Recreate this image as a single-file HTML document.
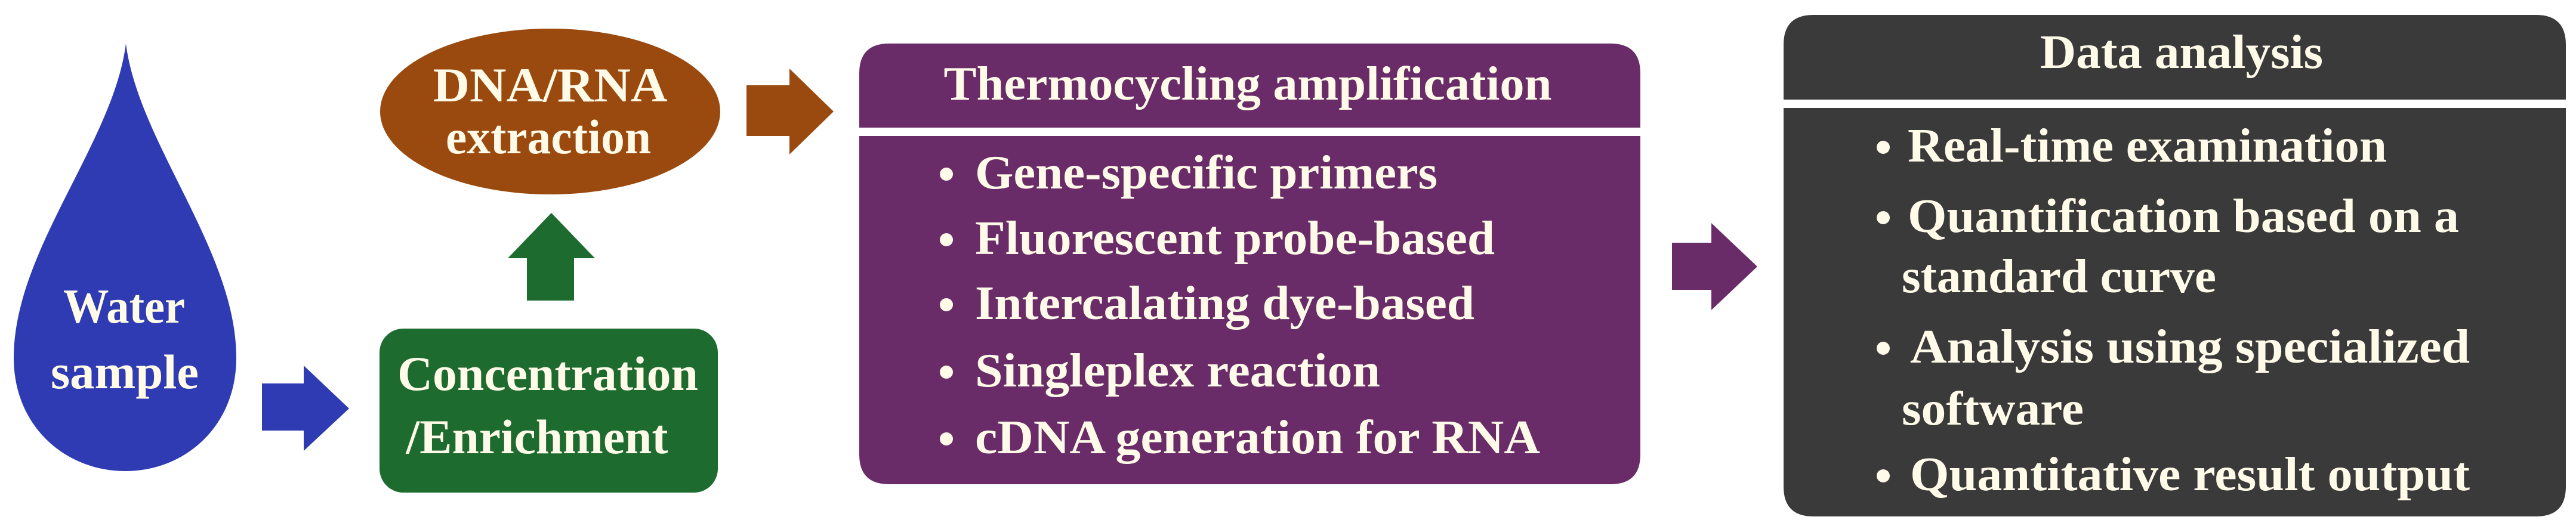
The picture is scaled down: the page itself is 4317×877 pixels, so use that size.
<!DOCTYPE html>
<html><head><meta charset="utf-8"><style>html,body{margin:0;padding:0;background:#fff}svg{display:block}svg text{font-family:"Liberation Serif","DejaVu Serif",serif;font-weight:bold}</style></head>
<body>
<svg width="4317" height="877" viewBox="0 0 4317 877" xmlns="http://www.w3.org/2000/svg" fill="#fffbe8">
<!-- drop -->
<path d="M211,73 C190,240 23,420 23,600 C23,715 110,790 210,790 C310,790 396,715 396,600 C396,420 232,240 211,73 Z" fill="#2f3bb2"/>
<text x="208" y="541" font-size="82" text-anchor="middle" textLength="204" lengthAdjust="spacingAndGlyphs">Water</text>
<text x="209" y="651" font-size="82" text-anchor="middle" textLength="248" lengthAdjust="spacingAndGlyphs">sample</text>
<!-- blue arrow -->
<polygon points="439,643 509,643 509,613 585,685 509,756 509,722 439,722" fill="#2f3bb2"/>
<!-- green box -->
<rect x="636" y="551" width="567" height="275" rx="40" fill="#1e6b30"/>
<text x="918" y="654" font-size="82" text-anchor="middle" textLength="504" lengthAdjust="spacingAndGlyphs">Concentration</text>
<text x="900" y="760" font-size="82" text-anchor="middle" textLength="439" lengthAdjust="spacingAndGlyphs">/Enrichment</text>
<!-- green up arrow -->
<polygon points="924,357 997,433 962,433 962,504 883,504 883,433 851,433" fill="#1e6b30"/>
<!-- brown ellipse -->
<ellipse cx="922" cy="187" rx="285" ry="139" fill="#9a4a0e"/>
<text x="922" y="170" font-size="82" text-anchor="middle" textLength="393" lengthAdjust="spacingAndGlyphs">DNA/RNA</text>
<text x="919" y="257" font-size="82" text-anchor="middle" textLength="344" lengthAdjust="spacingAndGlyphs">extraction</text>
<!-- brown arrow -->
<polygon points="1251,143 1323,143 1323,115 1397,187 1323,259 1323,228 1251,228" fill="#9a4a0e"/>
<!-- purple box -->
<path d="M1440,214 L1440,123 Q1440,73 1490,73 L2699,73 Q2749,73 2749,123 L2749,214 Z" fill="#6a2c68"/>
<path d="M1440,228 L2749,228 L2749,762 Q2749,812 2699,812 L1490,812 Q1440,812 1440,762 Z" fill="#6a2c68"/>
<text x="2091" y="167" font-size="80" text-anchor="middle" textLength="1019" lengthAdjust="spacingAndGlyphs">Thermocycling amplification</text>
<g font-size="80">
<circle cx="1586" cy="292" r="11"/><text x="1634" y="316" textLength="775" lengthAdjust="spacingAndGlyphs">Gene-specific primers</text>
<circle cx="1586" cy="402" r="11"/><text x="1634" y="426" textLength="871" lengthAdjust="spacingAndGlyphs">Fluorescent probe-based</text>
<circle cx="1586" cy="511" r="11"/><text x="1634" y="535" textLength="837" lengthAdjust="spacingAndGlyphs">Intercalating dye-based</text>
<circle cx="1586" cy="624" r="11"/><text x="1634" y="648" textLength="679" lengthAdjust="spacingAndGlyphs">Singleplex reaction</text>
<circle cx="1586" cy="736" r="11"/><text x="1634" y="760" textLength="947" lengthAdjust="spacingAndGlyphs">cDNA generation for RNA</text>
</g>
<!-- purple arrow -->
<polygon points="2802,407 2868,407 2868,374 2945,447 2868,520 2868,486 2802,486" fill="#6a2c68"/>
<!-- dark box -->
<path d="M2989,167 L2989,75 Q2989,25 3039,25 L4250,25 Q4300,25 4300,75 L4300,167 Z" fill="#3a3a3a"/>
<path d="M2989,181 L4300,181 L4300,816 Q4300,866 4250,866 L3039,866 Q2989,866 2989,816 Z" fill="#3a3a3a"/>
<text x="3656" y="114" font-size="80" text-anchor="middle" textLength="474" lengthAdjust="spacingAndGlyphs">Data analysis</text>
<g font-size="80">
<circle cx="3156" cy="247" r="11"/><text x="3197" y="271" textLength="803" lengthAdjust="spacingAndGlyphs">Real-time examination</text>
<circle cx="3156" cy="365" r="11"/><text x="3197" y="389" textLength="924" lengthAdjust="spacingAndGlyphs">Quantification based on a</text>
<text x="3187" y="490" textLength="527" lengthAdjust="spacingAndGlyphs">standard curve</text>
<circle cx="3156" cy="584" r="11"/><text x="3201" y="608" textLength="938" lengthAdjust="spacingAndGlyphs">Analysis using specialized</text>
<text x="3187" y="712" textLength="305" lengthAdjust="spacingAndGlyphs">software</text>
<circle cx="3156" cy="798" r="11"/><text x="3201" y="822" textLength="938" lengthAdjust="spacingAndGlyphs">Quantitative result output</text>
</g>
</svg>
</body></html>
